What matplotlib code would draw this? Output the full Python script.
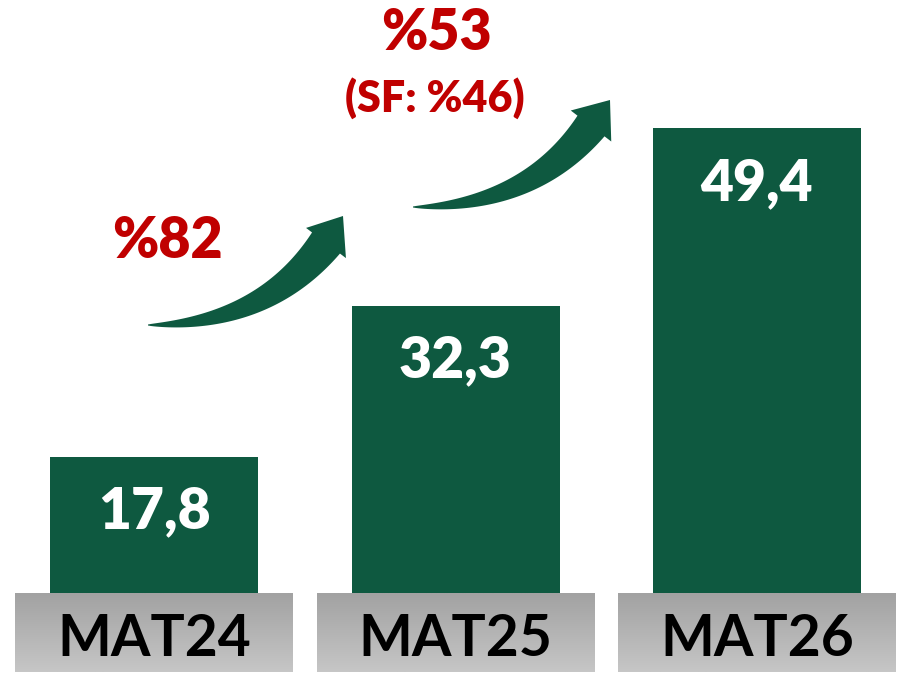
import matplotlib
matplotlib.use("Agg")
import matplotlib.pyplot as plt
import numpy as np
from matplotlib.patches import Polygon
from matplotlib.transforms import Affine2D
from matplotlib.colors import LinearSegmentedColormap

cats = ["MAT24", "MAT25", "MAT26"]
vals = [17.8, 32.3, 49.4]
val_lbl = ["17,8", "32,3", "49,4"]
growth = ["%82", "%53"]
sf_note = "(SF: %46)"

green = "#0E5940"
red = "#C00000"
W, H = 899, 674

fig = plt.figure(figsize=(W / 100, H / 100), dpi=100)
ax = fig.add_axes([0, 0, 1, 1])
ax.axis("off")

# pixel transform for decorations
pix = Affine2D().scale(1 / W, -1 / H).translate(0, 1) + fig.transFigure

x = np.arange(len(cats))
ax.bar(x, vals, width=0.69, bottom=0, color=green, zorder=2)

for i, v in enumerate(vals):
    ax.text(x[i], v - 6.9, val_lbl[i], color="white", fontsize=41, fontweight="heavy",
            family="Lato", ha="center", va="baseline", zorder=5)

# grey gradient plinths
grad = np.linspace(0, 1, 64).reshape(-1, 1)
gcm = LinearSegmentedColormap.from_list("g", ["#c6c6c6", "#a2a2a2"])
for i, c in enumerate(cats):
    ax.imshow(grad, cmap=gcm, extent=(x[i] - 0.46, x[i] + 0.46, -2.9, 4.6),
              origin="lower", aspect="auto", zorder=3)
    ax.text(x[i], -1.35, c, color="black", fontsize=41, fontweight="bold",
            family="Lato", ha="center", va="baseline", zorder=5)
ax.set_xlim(-0.511, 2.471)
ax.set_ylim(-3.08, 61.7)


def curved_arrow(tail, ctrl, base, tip, bw, hw):
    t = np.linspace(0, 1, 80)[:, None]
    p0, p1, p2 = map(np.array, (tail, ctrl, base))
    pts = (1 - t) ** 2 * p0 + 2 * (1 - t) * t * p1 + t ** 2 * p2
    d = 2 * (1 - t) * (p1 - p0) + 2 * t * (p2 - p1)
    d = d / np.linalg.norm(d, axis=1, keepdims=True)
    n = np.column_stack([d[:, 1], -d[:, 0]])
    w = (0.5 + (bw / 2 - 0.5) * t ** 0.8)
    left = pts + n * w
    right = pts - n * w
    nb = n[-1]
    head = [pts[-1] + nb * hw / 2, np.array(tip), pts[-1] - nb * hw / 2]
    poly = np.vstack([left, head[0:1], head[1:2], head[2:3], right[::-1]])
    ax.add_patch(Polygon(poly, closed=True, color=green, transform=pix, zorder=4, lw=0))


curved_arrow((148, 325), (264, 325), (326, 243), (343, 216), 35, 50)
curved_arrow((413, 207), (529, 207), (591, 126), (610, 100), 34, 51)

ax.text(167, 258, growth[0], transform=pix, color=red, fontsize=40, fontweight="heavy",
        family="Lato", ha="center", va="baseline")
ax.text(436, 50, growth[1], transform=pix, color=red, fontsize=40, fontweight="heavy",
        family="Lato", ha="center", va="baseline")
ax.text(435, 112, sf_note, transform=pix, color=red, fontsize=31, fontweight="heavy",
        family="Lato", ha="center", va="baseline")

fig.savefig("out.png", dpi=100, facecolor="white")
